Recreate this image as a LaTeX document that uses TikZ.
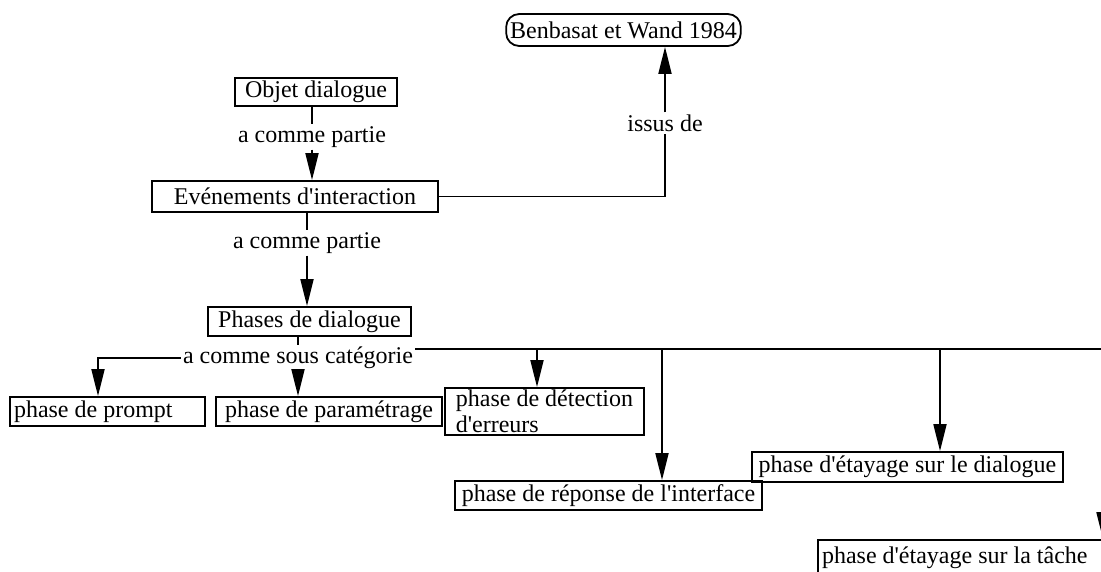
\documentclass[tikz,border=0pt]{standalone}
\usepackage{fontspec}
\setmainfont{Liberation Serif}
\usetikzlibrary{arrows.meta}
\newcommand{\apos}{\textquotesingle}

\begin{document}
\begin{tikzpicture}[x=1pt,y=-1pt,
    box/.style={draw=black,line width=1.8pt,inner xsep=4pt,inner ysep=0pt,font=\fontsize{24}{26}\selectfont},
    lbox/.style={box,align=left},
    rbox/.style={box,rounded corners=13pt},
    lbl/.style={inner sep=2pt,font=\fontsize{24}{26}\selectfont},
    lin/.style={black,line width=1.8pt},
    arr/.style={lin,-{Triangle[length=27pt,width=13pt]}}]
  \useasboundingbox (0,0) rectangle (1101,571);
  \node [rbox,minimum width=227,minimum height=32] (bw) at (623.5,30) {Benbasat et Wand 1984};
  \node [box,minimum width=162,minimum height=28] (obj) at (316,92) {Objet dialogue};
  \node [lbl] (p1) at (312,137) {a comme partie};
  \node [box,minimum width=286,minimum height=31] (evt) at (295,196.5) {Evénements d\apos interaction};
  \node [lbl] (p2) at (307,243) {a comme partie};
  \node [lbl] (is) at (665,123) {issus de};
  \node [box,minimum width=203,minimum height=29] (phd) at (309.5,321.5) {Phases de dialogue};
  \node [lbl] (sc) at (298,358) {a comme sous catégorie};
  \node [box,minimum height=29] (prompt) at (107.5,411.5) {\makebox[187pt][l]{phase de prompt}};
  \node [box,minimum width=226,minimum height=29] (param) at (329,411.5) {phase de paramétrage};
  \node [lbox,minimum width=199,minimum height=47] (detect) at (544.5,411.5) {phase de détection\\d\apos erreurs};
  \node [box,minimum width=307,minimum height=29] (rep) at (608.5,495.5) {phase de réponse de l\apos interface};
  \node [box,minimum width=311,minimum height=30] (dial) at (907.5,467) {phase d\apos étayage sur le dialogue};
  \node [box,minimum height=36] (tache) at (968,558) {\makebox[292pt][l]{phase d\apos étayage sur la tâche}};
  \coordinate (re) at (1103,349);
  \draw [lin] (obj.south -| p1) -- (p1.north);
  \draw [arr] (p1.south) -- (p1.south |- evt.north);
  \draw [lin] (evt.south -| p2) -- (p2.north);
  \draw [arr] (p2.south) -- (p2.south |- phd.north);
  \draw [lin] (evt.east) -| (is.south);
  \draw [arr] (is.north) -- (is.north |- bw.south);
  \draw [lin] (phd.south -| sc) -- (sc.north);
  \draw [arr] (sc.south) -- (sc.south |- param.north);
  \draw [arr] (sc.west) -| ([xshift=-9.5]prompt.north);
  \draw [lin] ([yshift=9]sc.east) -- (re);
  \draw [arr] ([xshift=-7.5]detect.north |- re) -- ([xshift=-7.5]detect.north);
  \draw [arr] ([xshift=53.5]rep.north |- re) -- ([xshift=53.5]rep.north);
  \draw [arr] ([xshift=32.5]dial.north |- re) -- ([xshift=32.5]dial.north);
  \draw [arr] (re) -- (re |- tache.north);
\end{tikzpicture}
\end{document}
